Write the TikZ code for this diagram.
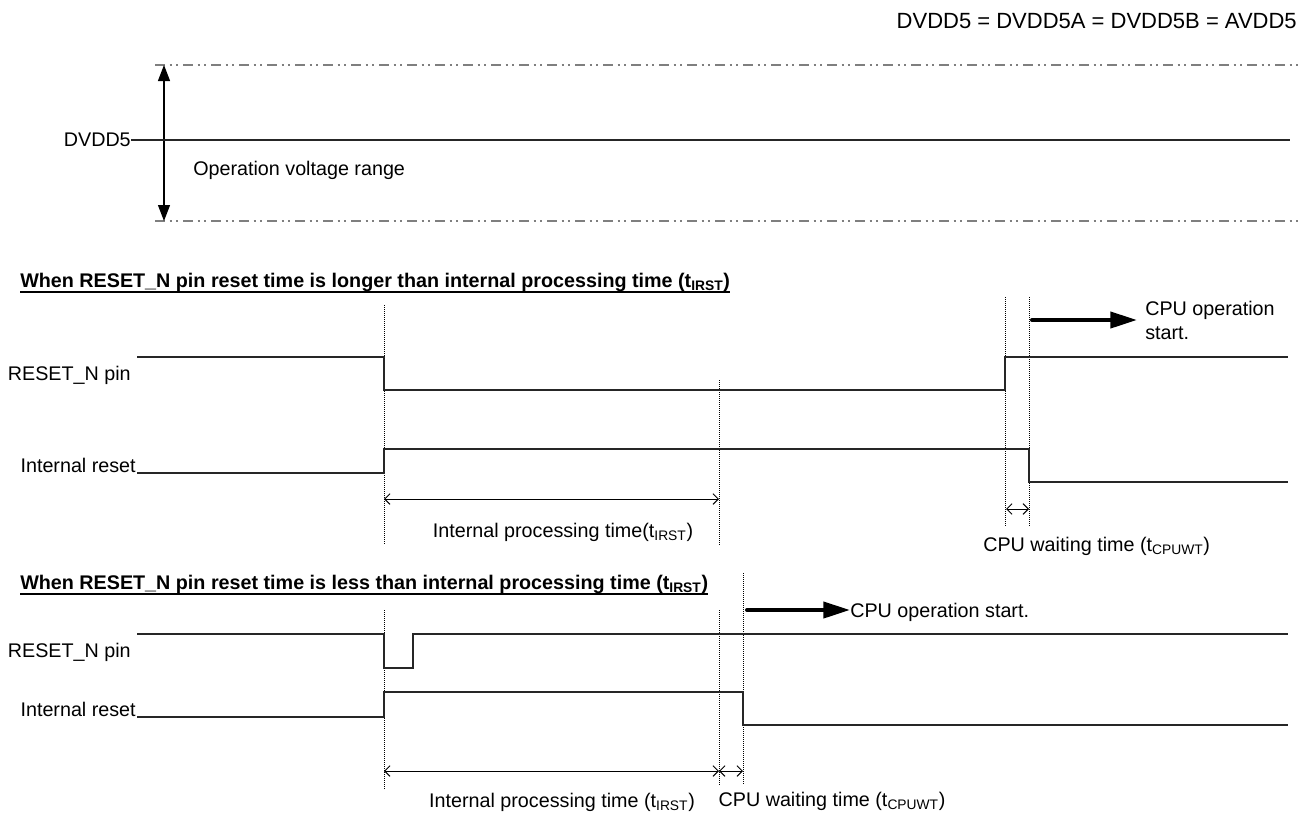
\documentclass[tikz,border=0pt]{standalone}
\usepackage{fontspec}
\setmainfont{Liberation Sans}
\usepackage{tikz}
\usetikzlibrary{arrows.meta,positioning}
\definecolor{rangeDraw}{HTML}{7F7F7F}
\definecolor{sigDraw}{HTML}{262626}
\tikzset{
  lbl/.style  ={font=\fontsize{14.8}{18}\selectfont, inner sep=0pt},
  hdr/.style  ={font=\fontsize{16.5}{20}\selectfont, inner sep=0pt},
  ttl/.style  ={font=\fontsize{14.8}{18}\selectfont\bfseries, inner sep=0pt},
  uline/.style={draw=black, line width=1.6pt},
  sig/.style  ={draw=sigDraw, line width=1pt},
  guide/.style={draw=black, line width=0.6pt, dash pattern=on 0.75pt off 0.75pt},
  rng/.style  ={draw=rangeDraw, line width=1.1pt, dash pattern=on 7.5pt off 3.5pt on 1.5pt off 3.5pt on 1.5pt off 3.5pt},
  vdim/.style ={{Triangle[length=12pt,width=9pt]}-{Triangle[length=12pt,width=9pt]}, line width=0.8pt},
  dim/.style  ={{Straight Barb[length=4pt,width=8pt]}-{Straight Barb[length=4pt,width=8pt]}, line width=0.7pt},
  go/.style   ={-{Triangle[length=20pt,width=12pt]}, line width=3pt, line cap=round},
}
\begin{document}
\begin{tikzpicture}[x=0.75pt,y=-0.75pt]
  \useasboundingbox (0,0) rectangle (1313,815);
  \node[hdr, anchor=east] (eq) at (1297,21) {DVDD5 = DVDD5A = DVDD5B = AVDD5};

  % supply range
  \coordinate (rt) at (155,65);  \coordinate (rte) at (1300,65);
  \coordinate (rb) at (155,221); \coordinate (rbe) at (1300,221);
  \coordinate (vt) at (164,65);  \coordinate (vb)  at (164,221);
  \draw[rng] (rt)--(rte); \draw[rng] (rb)--(rbe);
  \draw[vdim] (vt)--(vb);
  \node[lbl, anchor=east]  (dv)  at (131,140) {DVDD5};
  \coordinate (dve) at (1290,140);
  \draw[sig] (dv.east)--(dve);
  \node[lbl, anchor=west]  (opr) at (193,170) {Operation voltage range};

  % long reset
  \node[ttl, anchor=base west] (t1) at (20,287)
        {When RESET\_N pin reset time is longer than internal processing time (t\textsubscript{IRST})};
  \draw[uline] ([yshift=-4pt]t1.base west)--([yshift=-4pt]t1.base east);
  \node[lbl, anchor=east]      (rs1) at (131,375) {RESET\_N pin};
  \node[lbl, anchor=base east] (ir1) at (136,472) {Internal reset};
  \draw[guide] (384,305)--(384,545);
  \draw[guide] (719,380)--(719,545);
  \draw[guide] (1005,297)--(1005,527);
  \draw[guide] (1029,297)--(1029,527);
  \draw[sig] (137,357)--(384,357)--(384,390)--(1005,390)--(1005,357)--(1288,357);
  \draw[sig] (137,473)--(384,473)--(384,449)--(1029,449)--(1029,482)--(1288,482);
  \coordinate (p1a) at (384,499); \coordinate (p1b) at (719,499);
  \coordinate (w1a) at (1006,509); \coordinate (w1b) at (1029,509);
  \draw[dim] (p1a)--(p1b); \draw[dim] (w1a)--(w1b);
  \node[lbl] (pt1) at (563,532) {Internal processing time(t\textsubscript{IRST})};
  \node[lbl, anchor=west] (wt1) at (983,546) {CPU waiting time (t\textsubscript{CPUWT})};
  \coordinate (g1a) at (1032,320); \coordinate (g1b) at (1137,320);
  \draw[go] (g1a)--(g1b);
  \node[lbl, anchor=west, align=left] (cs1) at (1145,320) {CPU operation\\start.};

  % short reset
  \node[ttl, anchor=base west] (t2) at (20,589)
        {When RESET\_N pin reset time is less than internal processing time (t\textsubscript{IRST})};
  \draw[uline] ([yshift=-4pt]t2.base west)--([yshift=-4pt]t2.base east);
  \node[lbl, anchor=east]      (rs2) at (131,652) {RESET\_N pin};
  \node[lbl, anchor=base east] (ir2) at (136,716) {Internal reset};
  \draw[guide] (384,610)--(384,790);
  \draw[guide] (719,610)--(719,785);
  \draw[guide] (743,573)--(743,785);
  \draw[sig] (137,634)--(384,634)--(384,668)--(413,668)--(413,634)--(1288,634);
  \draw[sig] (137,717)--(384,717)--(384,692)--(743,692)--(743,725)--(1288,725);
  \coordinate (p2a) at (384,771); \coordinate (p2b) at (719,771); \coordinate (w2b) at (743,771);
  \draw[dim] (p2a)--(p2b); \draw[dim] (p2b)--(w2b);
  \node[lbl] (pt2) at (562,802) {Internal processing time (t\textsubscript{IRST})};
  \node[lbl] (wt2) at (832,801) {CPU waiting time (t\textsubscript{CPUWT})};
  \coordinate (g2a) at (747,610); \coordinate (g2b) at (850,610);
  \draw[go] (g2a)--(g2b);
  \node[lbl, anchor=west] (cs2) at (850,612) {CPU operation start.};
\end{tikzpicture}
\end{document}
